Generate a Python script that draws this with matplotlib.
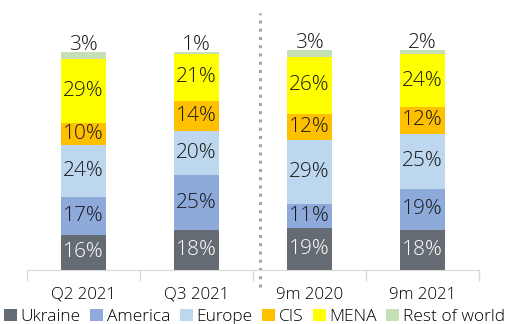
import numpy as np
import matplotlib.pyplot as plt

periods = ["Q2 2021", "Q3 2021", "9m 2020", "9m 2021"]
regions = ["Ukraine", "America", "Europe", "CIS", "MENA", "Rest of world"]
ukraine = [16, 18, 19, 18]
america = [17, 25, 11, 19]
europe = [24, 20, 29, 25]
cis = [10, 14, 12, 12]
mena = [29, 21, 26, 24]
rest = [3, 1, 3, 2]
colors = ["#646b72", "#8eaadb", "#bdd7ee", "#ffc000", "#ffff00", "#c5e0b4"]

plt.rcParams["font.family"] = ["Open Sans", "DejaVu Sans"]

fig = plt.figure(figsize=(5.12, 3.24), dpi=100)
ax = fig.add_axes([27 / 512, 54 / 324, 452 / 512, 220 / 324])

x = np.arange(len(periods))
series = [ukraine, america, europe, cis, mena, rest]
bottom = np.zeros(len(periods))
for i, (name, vals) in enumerate(zip(regions, series)):
    vals = np.array(vals, dtype=float)
    ax.bar(x, vals, 0.4, bottom=bottom, color=colors[i], label=name)
    for xi, b, v in zip(x, bottom, vals):
        if name == "Rest of world":
            ax.text(xi, b + v - 1.2, f"{int(v)}%", ha="center", va="bottom",
                    fontsize=15, fontweight="light", color="#1a1a1a")
        else:
            tc = "white" if name == "Ukraine" else "#1a1a1a"
            ax.text(xi, b + v / 2, f"{int(v)}%", ha="center", va="center",
                    fontsize=15, fontweight="light", color=tc)
    bottom += vals

ax.set_xlim(-0.5, 3.5)
ax.set_ylim(0, 100)
ax.set_yticks([])
ax.set_xticks(x)
ax.set_xticklabels(periods, fontsize=12.2, fontweight="light")
ax.set_xticks(np.arange(-0.5, 4, 1), minor=True)
ax.tick_params(axis="x", which="major", length=0, pad=12)
ax.tick_params(axis="x", which="minor", length=8, color="#d9d9d9", width=1)
for s in ["top", "right", "left"]:
    ax.spines[s].set_visible(False)
ax.spines["bottom"].set_color("#d9d9d9")

# separator between quarterly and nine-month figures
ax.plot([1.56, 1.56], [-7.5, 117], color="#a6a6a6", lw=2.2,
        linestyle=(0, (1, 1.7)), clip_on=False)

leg = ax.legend(loc="lower center", bbox_to_anchor=(0.503, -0.25), ncol=6,
                frameon=False, handlelength=0.75, handleheight=0.75,
                handletextpad=0.2, columnspacing=0.55, borderaxespad=0,
                borderpad=0, prop={"size": 12.5, "weight": "light"})

fig.savefig("out.png", dpi=100)
